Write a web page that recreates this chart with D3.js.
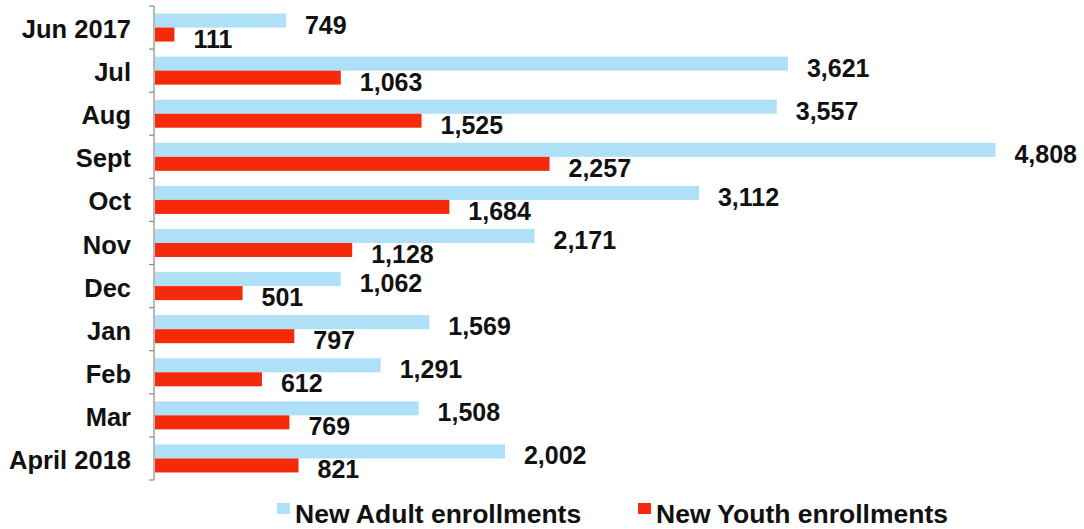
<!DOCTYPE html>
<html><head><meta charset="utf-8">
<script src="https://cdn.jsdelivr.net/npm/d3@7/dist/d3.min.js"></script>
<style>body{margin:0;background:#fff}svg{display:block}text{font-family:"Liberation Sans",Arial,Helvetica,sans-serif;font-weight:bold;fill:#111}</style>
</head><body><svg id="c" width="1084" height="529"></svg>
<script>
const categories = ["Jun 2017","Jul","Aug","Sept","Oct","Nov","Dec","Jan","Feb","Mar","April 2018"];
const adult = [749,3621,3557,4808,3112,2171,1062,1569,1291,1508,2002];
const youth = [111,1063,1525,2257,1684,1128,501,797,612,769,821];
const seriesNames = ["New Adult enrollments","New Youth enrollments"];
const colors = ["#aee0f8","#f42a0a"];

const svg = d3.select("#c");
const x = d3.scaleLinear().domain([0,5000]).range([155,1029]);
const y = d3.scaleBand().domain(categories).range([6,480]).paddingInner(0.35).paddingOuter(0.175);
const sub = d3.scaleBand().domain([0,1]).range([0,y.bandwidth()]);
const fmt = d3.format(",");

const data = categories.map((c,i)=>({c, vals:[adult[i],youth[i]]}));
const g = svg.selectAll("g.grp").data(data).join("g").attr("class","grp")
  .attr("transform",d=>`translate(0,${y(d.c)})`);
g.selectAll("rect").data(d=>d.vals).join("rect")
  .attr("x",x(0)).attr("y",(v,j)=>sub(j)).attr("height",sub.bandwidth())
  .attr("width",v=>x(v)-x(0)).attr("fill",(v,j)=>colors[j]);
g.selectAll("text.val").data(d=>d.vals).join("text").attr("class","val")
  .attr("x",v=>x(v)+19).attr("y",(v,j)=>sub(j)+sub.bandwidth()+6)
  .attr("font-size",25).text(v=>fmt(v));

// axis
const step = y.step();
const ax = svg.append("g").attr("stroke","#8a8a8a").attr("stroke-width",1.2);
ax.append("line").attr("x1",154).attr("x2",154).attr("y1",6).attr("y2",480);
ax.selectAll("line.t").data(d3.range(categories.length+1)).join("line").attr("class","t")
  .attr("x1",149).attr("x2",154).attr("y1",i=>6+i*step).attr("y2",i=>6+i*step);
svg.selectAll("text.cat").data(categories).join("text").attr("class","cat")
  .attr("x",131).attr("y",d=>y(d)+y.bandwidth()/2+10.5).attr("text-anchor","end")
  .attr("font-size",25.5).text(d=>d);

// legend
const legX = [277,638];
const lg = svg.selectAll("g.leg").data(seriesNames).join("g").attr("class","leg")
  .attr("transform",(d,i)=>`translate(${legX[i]},0)`);
lg.append("rect").attr("x",0).attr("y",503).attr("width",13).attr("height",11).attr("fill",(d,i)=>colors[i]);
lg.append("text").attr("x",18).attr("y",523).attr("font-size",26.5).text(d=>d);
</script></body></html>
